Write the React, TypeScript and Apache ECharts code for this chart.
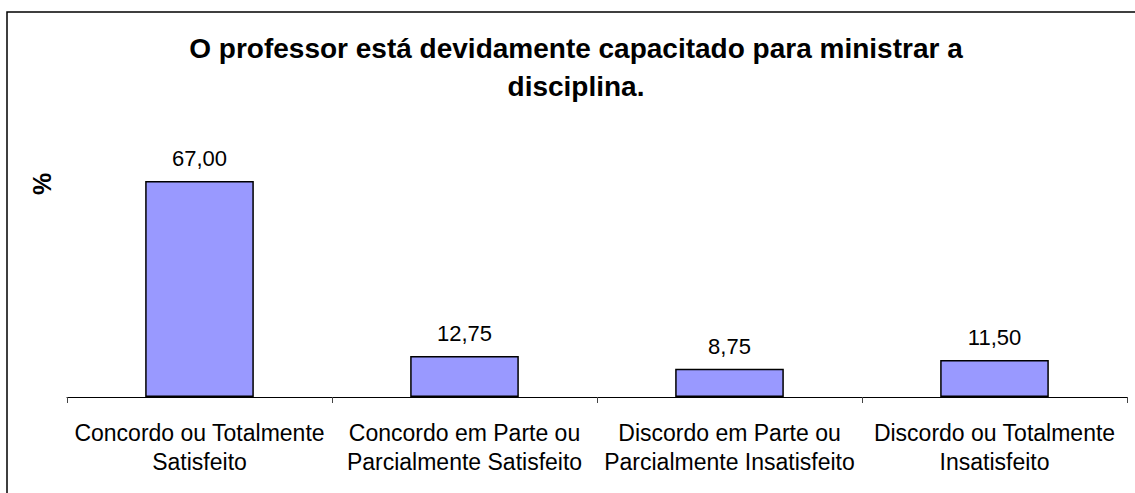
import React, { useEffect, useRef } from "react";
import * as echarts from "echarts";

const titleText = "O professor está devidamente capacitado para ministrar a\ndisciplina.";
const categories = [
  "Concordo ou Totalmente\nSatisfeito",
  "Concordo em Parte ou\nParcialmente Satisfeito",
  "Discordo em Parte ou\nParcialmente Insatisfeito",
  "Discordo ou Totalmente\nInsatisfeito",
];
const values = [67.0, 12.75, 8.75, 11.5];
const yAxisTitle = "%";

const FONT = "'Liberation Sans', Arial, Helvetica, sans-serif";

export default function App() {
  const ref = useRef<HTMLDivElement>(null);
  useEffect(() => {
    if (!ref.current) return;
    const chart = echarts.init(ref.current, null, { renderer: "svg" });
    chart.setOption({
      animation: false,
      backgroundColor: "#ffffff",
      title: {
        text: titleText,
        left: 576,
        top: 29,
        textAlign: "center",
        padding: 0,
        textStyle: {
          fontFamily: FONT,
          fontSize: 28,
          fontWeight: "bold",
          color: "#000",
          lineHeight: 38,
        },
      },
      graphic: [
        {
          type: "rect",
          shape: { x: 7, y: 12, width: 1145, height: 500 },
          style: { fill: "none", stroke: "#000", lineWidth: 1.5 },
          silent: true,
        },
        {
          type: "text",
          x: 42,
          y: 184,
          rotation: Math.PI / 2,
          style: {
            text: yAxisTitle,
            fontFamily: FONT,
            fontSize: 25,
            fontWeight: "bold",
            fill: "#000",
            align: "center",
            verticalAlign: "middle",
          },
        },
      ],
      grid: { left: 67, right: 8, top: 139, bottom: 96, containLabel: false },
      xAxis: {
        type: "category",
        data: categories,
        axisLine: { show: true, lineStyle: { color: "#000", width: 1 } },
        axisTick: { show: true, alignWithLabel: false, length: 6, lineStyle: { color: "#444" } },
        axisLabel: {
          interval: 0,
          margin: 21,
          fontFamily: FONT,
          fontSize: 23,
          lineHeight: 29,
          color: "#000",
        },
      },
      yAxis: {
        type: "value",
        min: 0,
        max: 80,
        show: false,
        splitLine: { show: false },
      },
      series: [
        {
          type: "bar",
          data: values,
          barWidth: "41%",
          itemStyle: { color: "#9999FF", borderColor: "#000", borderWidth: 1.5 },
          label: {
            show: true,
            position: "top",
            distance: 11,
            fontFamily: FONT,
            fontSize: 22,
            color: "#000",
            formatter: (p: any) => Number(p.value).toFixed(2).replace(".", ","),
          },
        },
      ],
    });
    return () => chart.dispose();
  }, []);
  return (
    <div
      ref={ref}
      style={{ position: "fixed", left: 0, top: 0, width: 1135, height: 493 }}
    />
  );
}
